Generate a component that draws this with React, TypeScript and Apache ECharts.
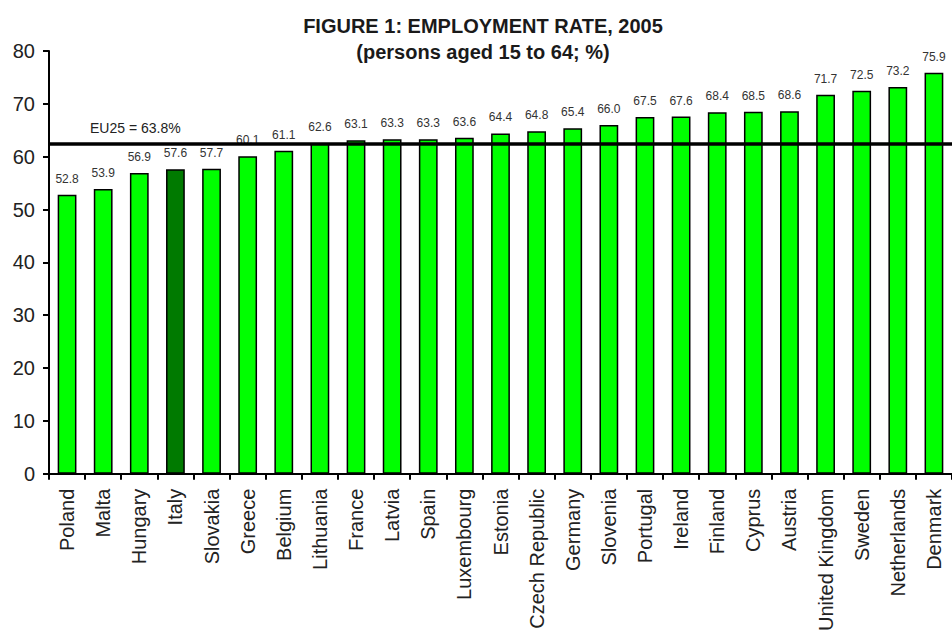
import React, { useEffect, useRef } from "react";
import * as echarts from "echarts";

const countries = ["Poland","Malta","Hungary","Italy","Slovakia","Greece","Belgium","Lithuania","France","Latvia","Spain","Luxembourg","Estonia","Czech Republic","Germany","Slovenia","Portugal","Ireland","Finland","Cyprus","Austria","United Kingdom","Sweden","Netherlands","Denmark"];
const rates = [52.8,53.9,56.9,57.6,57.7,60.1,61.1,62.6,63.1,63.3,63.3,63.6,64.4,64.8,65.4,66.0,67.5,67.6,68.4,68.5,68.6,71.7,72.5,73.2,75.9];
const highlighted = ["Italy"];
const euLineValue = 62.5;
const euLabel = "EU25 = 63.8%";
const titleText = "FIGURE 1: EMPLOYMENT RATE, 2005";
const subtitleText = "(persons aged 15 to 64; %)";

const FONT = "Liberation Sans, Arial, sans-serif";

export default function App() {
  const ref = useRef<HTMLDivElement>(null);
  useEffect(() => {
    const chart = echarts.init(ref.current!, null, { renderer: "svg" });
    chart.setOption({
      animation: false,
      textStyle: { fontFamily: FONT },
      title: {
        text: titleText,
        subtext: subtitleText,
        left: 478,
        textAlign: "center",
        top: 11,
        itemGap: 6,
        textStyle: { fontSize: 20, fontWeight: "bold", color: "#1a1a1a", fontFamily: FONT },
        subtextStyle: { fontSize: 20, fontWeight: "bold", color: "#1a1a1a", fontFamily: FONT },
      },
      grid: { left: 49, right: 0, top: 51, bottom: 157, containLabel: false },
      xAxis: {
        type: "category",
        data: countries,
        axisLine: { lineStyle: { color: "#000", width: 2 } },
        axisTick: { show: true, alignWithLabel: false, length: 6, lineStyle: { color: "#000", width: 2 } },
        axisLabel: { rotate: 90, fontSize: 20, color: "#222", margin: 15, interval: 0 },
      },
      yAxis: {
        type: "value",
        min: 0,
        max: 80,
        interval: 10,
        splitLine: { show: false },
        axisLine: { show: true, lineStyle: { color: "#000", width: 2 } },
        axisTick: { show: true, length: 6, lineStyle: { color: "#000", width: 2 } },
        axisLabel: { fontSize: 20, color: "#222", margin: 14 },
      },
      series: [
        {
          type: "bar",
          barWidth: "52%",
          data: rates.map((v, i) => ({
            value: v,
            itemStyle: { color: highlighted.includes(countries[i]) ? "#007a00" : "#00ff00" },
          })),
          itemStyle: { borderColor: "#000", borderWidth: 1.5 },
          label: {
            show: true,
            position: "top",
            distance: 10,
            fontSize: 12,
            color: "#333",
            formatter: (p: any) => Number(p.value).toFixed(1),
          },
          markLine: {
            symbol: "none",
            silent: true,
            lineStyle: { color: "#000", width: 3.5, type: "solid" },
            label: {
              show: true,
              position: "insideStartTop",
              formatter: euLabel,
              fontSize: 14,
              color: "#222",
              distance: [41, 8],
            },
            data: [{ yAxis: euLineValue }],
          },
        },
      ],
    });
    return () => chart.dispose();
  }, []);
  return <div ref={ref} style={{ position: "absolute", left: 0, top: 0, width: 952, height: 634 }} />;
}
